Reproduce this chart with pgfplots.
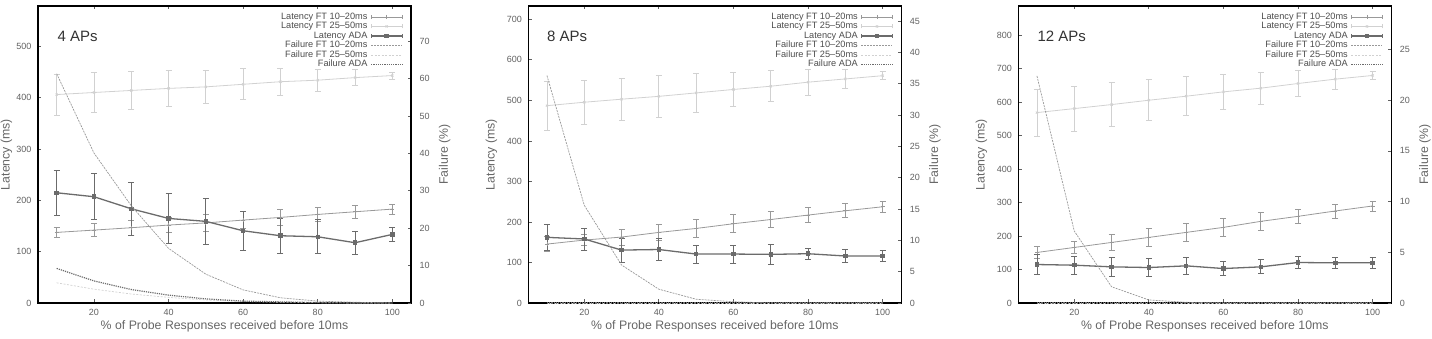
\documentclass[border=0pt]{standalone}
\usepackage{fontspec}
\setmainfont{Liberation Sans}
\usepackage{pgfplots}
\pgfplotsset{compat=1.18}
\definecolor{lite}{gray}{0.82}
\definecolor{med}{gray}{0.6}
\definecolor{drk}{gray}{0.42}
\definecolor{tickc}{gray}{0.38}
\definecolor{labc}{gray}{0.4}
\definecolor{legc}{gray}{0.3}
\definecolor{titc}{gray}{0.2}
\tikzset{ttl/.style={anchor=base west, inner sep=0pt, font=\fontsize{15}{16}\selectfont, text=titc}}
\pgfplotsset{
 panel/.style={
   scale only axis, width=373pt, height=297pt,
   xmin=5, xmax=105, xtick={20,40,60,80,100},
   tick align=inside, major tick length=3.5pt,
   axis line style={line width=1.1pt, black},
   every tick/.style={tickc, line width=0.8pt},
   tick label style={font=\fontsize{9}{10}\selectfont, text=tickc},
   /pgf/number format/assume math mode=true,
   label style={font=\fontsize{12.3}{14}\selectfont, text=labc},
   xticklabel style={yshift=-3pt},
   clip=false,
 },
 leftax/.style={panel, ymin=0, ytick pos=left,
   yticklabel style={xshift=-3pt},
   xlabel={\% of Probe Responses received before 10ms},
   xlabel style={at={(axis description cs:0.5,0)}, anchor=base, yshift=-27pt},
   ylabel={Latency (ms)},
   ylabel style={at={(axis description cs:-0.1145,0.5)}, anchor=north, inner sep=0pt},
 },
 rightax/.style={panel, ymin=0, hide x axis, axis y line*=right, tick align=inside,
   yticklabel style={xshift=5pt},
   ylabel={Failure (\%)},
   ylabel style={at={(axis description cs:1.09,0.5)}, anchor=center},
   legend style={draw=none, fill=none, at={(1,1)}, anchor=north east,
     xshift=-8pt, yshift=-6pt, inner sep=0pt,
     font=\fontsize{9.2}{10}\selectfont, text=legc,
     row sep=0pt, column sep=3pt,
     nodes={inner sep=0pt, text height=6.3pt, text depth=1.7pt}},
   legend cell align=right, legend plot pos=right,
 },
 errleg/.style={legend image code/.code={
   \path[draw=none, fill=none] (0pt,-4.75pt) rectangle (31pt,4.75pt);
   \draw[##1] (0pt,0pt) -- (31pt,0pt);
   \draw[##1] (0pt,-2pt) -- (0pt,2pt) (31pt,-2pt) -- (31pt,2pt);
   \draw[##1] plot[only marks] coordinates {(15.5pt,0pt)};
 }},
 lineleg/.style={legend image code/.code={
   \path[draw=none, fill=none] (0pt,-4.75pt) rectangle (31pt,4.75pt);
   \draw[##1] (0pt,0pt) -- (31pt,0pt);}},
 sA/.style={med, line width=0.8pt, mark=+, mark size=2pt, mark options={solid}},
 sB/.style={lite, line width=0.8pt, mark=x, mark size=1.5pt, mark options={solid}},
 sC/.style={drk, line width=1.3pt, mark=square*, mark size=1.6pt, mark options={solid}},
 eb/.style={error bars/.cd, y dir=both, y explicit,
   error bar style={line width=0.8pt, solid},
   error mark options={rotate=90, mark size=3pt, line width=0.8pt}},
 fA/.style={med, line width=0.7pt, dash pattern=on 2pt off 1pt, lineleg},
 fB/.style={lite, line width=0.7pt, dash pattern=on 2pt off 1.5pt, lineleg},
 fC/.style={drk, line width=1.2pt, dash pattern=on 1.2pt off 1pt, lineleg},
}
\newcommand{\legstuff}{%
  \addlegendimage{sA, errleg}\addlegendentry{Latency FT 10–20ms}
  \addlegendimage{sB, errleg}\addlegendentry{Latency FT 25–50ms}
  \addlegendimage{sC, errleg}\addlegendentry{Latency ADA}
}
\begin{document}
\begin{tikzpicture}
\useasboundingbox (0,0) rectangle (1432pt,339pt);
% ================= Panel 1 : 4 APs
\begin{axis}[leftax, at={(38pt,36pt)}, ymax=578.5, ytick={0,100,...,500},
  ylabel style={at={(axis description cs:-0.1005,0.5)}}]
\addplot[sB, eb] table[x=x,y=y,y error=e] {
x y e
10 406 40
20 410 39
30 414 37
40 418 36
50 421 33
60 426 30
70 431 26
80 434 21
90 439 16
100 443 7
};
\addplot[sA, eb] table[x=x,y=y,y error=e] {
x y e
10 137.5 10
20 142 13
30 146.6 14
40 151.8 15
50 156 16
60 161.5 16
70 166.7 16
80 172.5 14
90 177.7 12
100 182.9 10
};
\addplot[sC, eb] table[x=x,y=y,y error=e] {
x y e
10 214.7 44
20 207 45
30 183.5 52
40 164.7 48
50 159 44
60 140.7 38
70 131 34
80 129 33
90 117.4 22
100 133.6 13
};
\node[ttl] at (rel axis cs:0.052,0.88) {4 APs};
\end{axis}
\begin{axis}[rightax, at={(38pt,36pt)}, ymax=79.4, ytick={0,10,...,70}]
\legstuff
\addplot[fA] table {
10 61.3
20 40.1
30 26
40 14.6
50 7.7
60 3.5
70 1.4
80 0.5
90 0.2
100 0
};\addlegendentry{Failure FT 10–20ms}
\addplot[fB] table {
10 5.4
20 3.7
30 2.4
40 1.5
50 0.8
60 0.4
70 0.2
80 0.1
90 0
100 0
};\addlegendentry{Failure FT 25–50ms}
\addplot[fC] table {
10 9.25
20 5.9
30 3.6
40 2.1
50 1.1
60 0.5
70 0.3
80 0.1
90 0
100 0
};\addlegendentry{Failure ADA}
\end{axis}
% ================= Panel 2 : 8 APs
\begin{axis}[leftax, at={(528.3pt,36pt)}, ymax=733, ytick={0,100,...,700}]
\addplot[sB, eb] table[x=x,y=y,y error=e] {
x y e
10 487 60
20 495.5 55
30 503 52
40 510 51
50 518.5 47
60 527 42
70 535 38
80 545 32
90 553 23
100 561 10
};
\addplot[sA, eb] table[x=x,y=y,y error=e] {
x y e
10 145.4 18
20 155.3 14
30 162.7 20
40 174.2 20
50 184 22
60 195.6 22
70 206 20
80 217 18
90 227.6 17
100 237.5 13
};
\addplot[sC, eb] table[x=x,y=y,y error=e] {
x y e
10 162 33
20 158 27
30 130.6 30
40 132 28
50 120.8 22
60 120.8 22
70 120 25
80 121.6 14
90 116 16
100 116 14
};
\node[ttl] at (rel axis cs:0.05,0.88) {8 APs};
\end{axis}
\begin{axis}[rightax, at={(528.3pt,36pt)}, ymax=47.4, ytick={0,5,...,45}]
\legstuff
\addplot[fA] table {
10 36.3
20 15.6
30 6.06
40 2.2
50 0.6
60 0.2
70 0
80 0
90 0
100 0
};\addlegendentry{Failure FT 10–20ms}
\addplot[fB] table {
10 0
20 0
30 0
40 0
50 0
60 0
70 0
80 0
90 0
100 0
};\addlegendentry{Failure FT 25–50ms}
\addplot[fC] table {
10 0
20 0
30 0
40 0
50 0
60 0
70 0
80 0
90 0
100 0
};\addlegendentry{Failure ADA}
\end{axis}
% ================= Panel 3 : 12 APs
\begin{axis}[leftax, at={(1018.3pt,36pt)}, ymax=887.6, ytick={0,100,...,800}]
\addplot[sB, eb] table[x=x,y=y,y error=e] {
x y e
10 569 70
20 581 67
30 593 65
40 606 61
50 618 58
60 631 52
70 642 47
80 656 39
90 669 30
100 680 12
};
\addplot[sA, eb] table[x=x,y=y,y error=e] {
x y e
10 151 17
20 166 19
30 181 23
40 196 26
50 211 27
60 226 27
70 244 26
80 259 22
90 275 21
100 290 15
};
\addplot[sC, eb] table[x=x,y=y,y error=e] {
x y e
10 115 30
20 113 27
30 108 28
40 106 26
50 111 26
60 103 21
70 108 21
80 121 18
90 120 17
100 120 17
};
\node[ttl] at (rel axis cs:0.051,0.88) {12 APs};
\end{axis}
\begin{axis}[rightax, at={(1018.3pt,36pt)}, ymax=29.3, ytick={0,5,...,25}]
\legstuff
\addplot[fA] table {
10 22.4
20 7.1
30 1.6
40 0.3
50 0.07
60 0
70 0
80 0
90 0
100 0
};\addlegendentry{Failure FT 10–20ms}
\addplot[fB] table {
10 0
20 0
30 0
40 0
50 0
60 0
70 0
80 0
90 0
100 0
};\addlegendentry{Failure FT 25–50ms}
\addplot[fC] table {
10 0
20 0
30 0
40 0
50 0
60 0
70 0
80 0
90 0
100 0
};\addlegendentry{Failure ADA}
\end{axis}
\end{tikzpicture}
\end{document}
